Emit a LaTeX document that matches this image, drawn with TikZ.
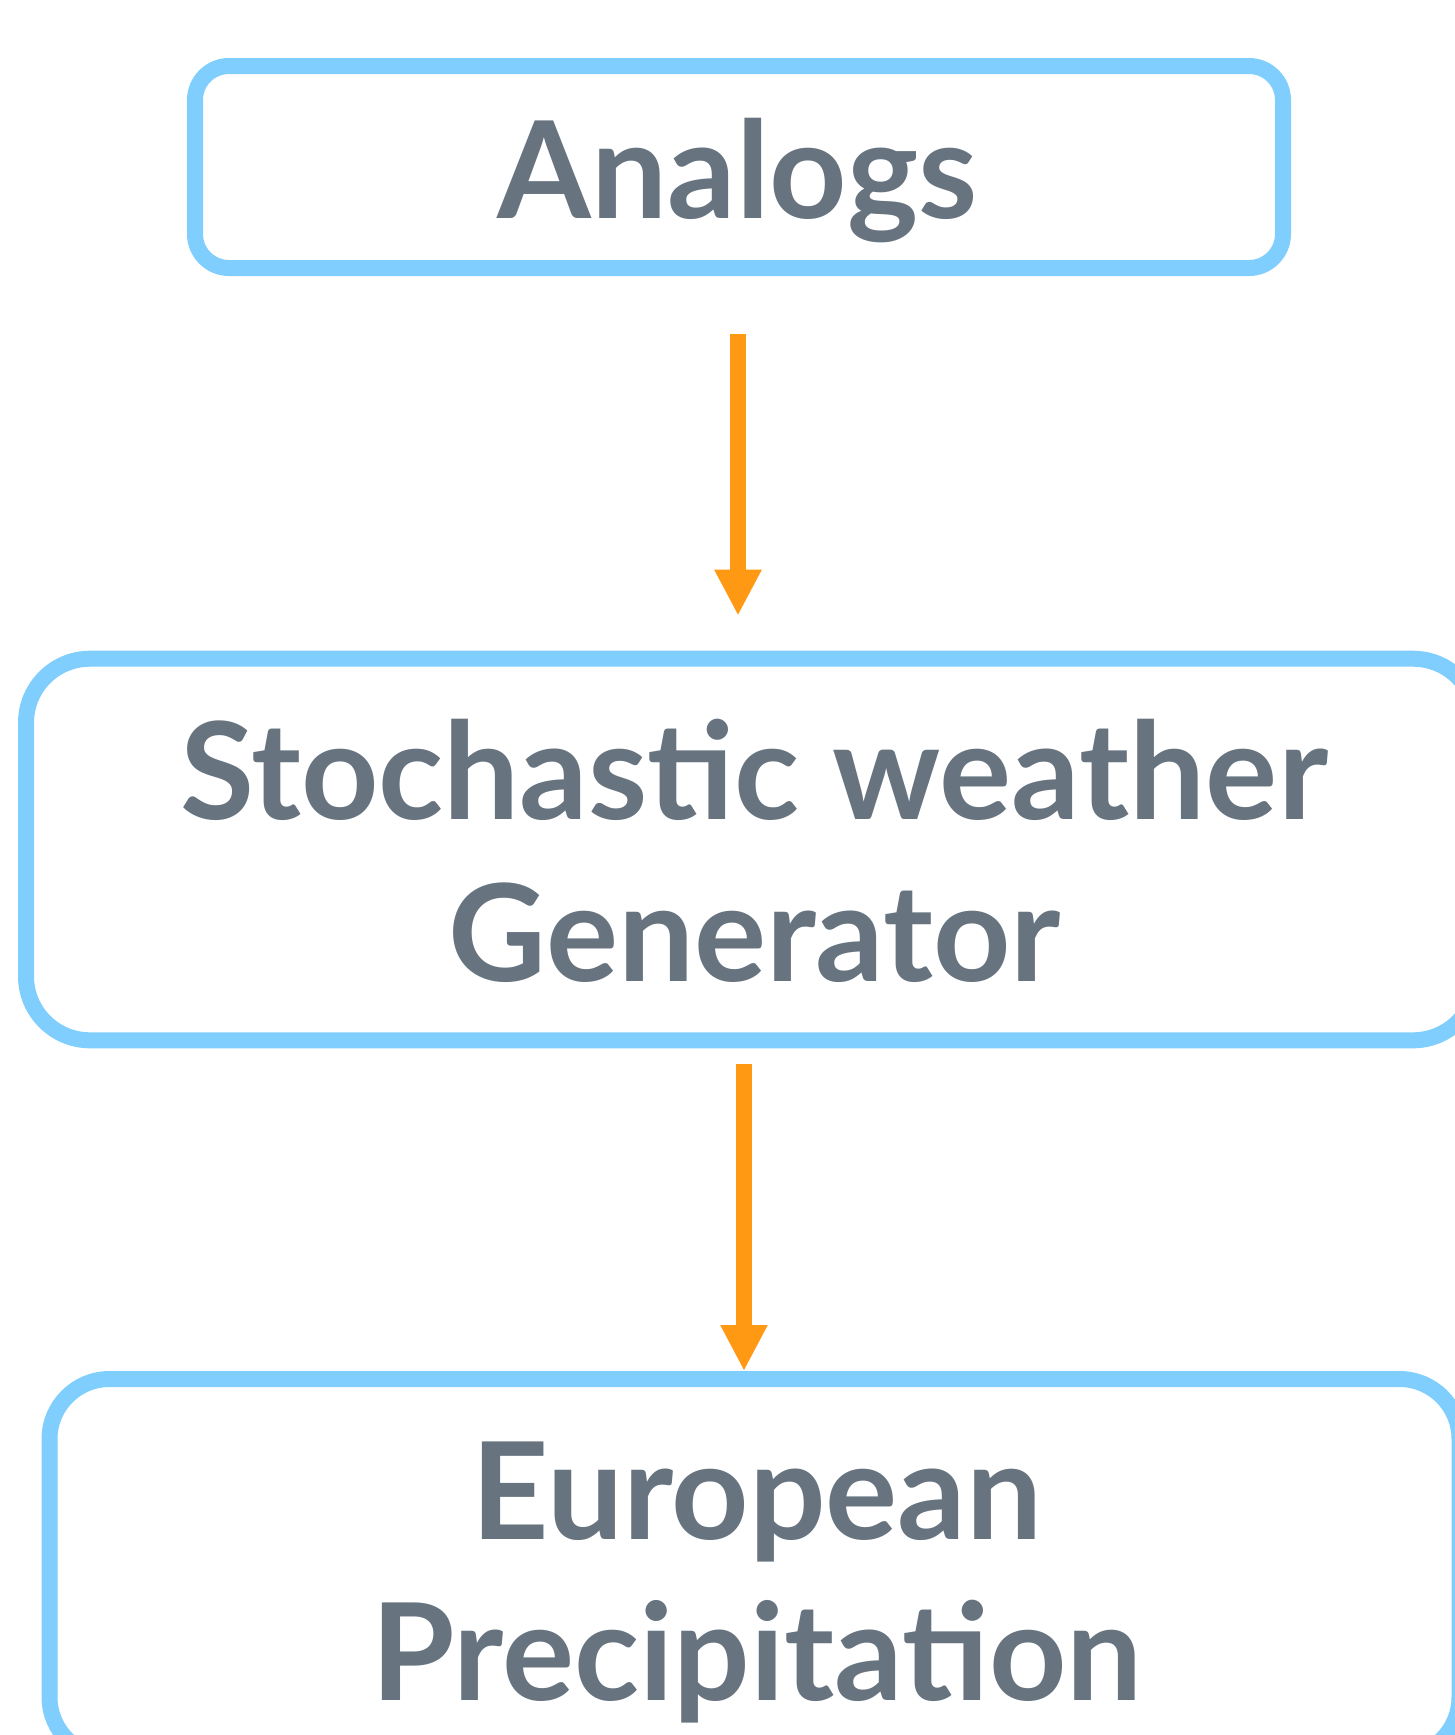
\documentclass[tikz,border=0pt]{standalone}
\usepackage{fontspec}
\setmainfont{Lato}
\usetikzlibrary{arrows.meta}
\definecolor{boxblue}{RGB}{128,206,253}
\definecolor{arrorange}{RGB}{255,153,20}
\definecolor{txtgray}{RGB}{103,116,128}
\tikzset{
  flowbox/.style={draw=boxblue, line width=16pt, inner sep=0pt, fill=none},
  flowtxt/.style={text=txtgray, font=\fontsize{135}{160}\selectfont\bfseries, inner sep=0pt, anchor=base},
  flowarr/.style={draw=arrorange, line width=16pt, -{Triangle[width=44pt,length=46pt]}}
}
\begin{document}
\begin{tikzpicture}[x=1pt,y=-1pt]
\useasboundingbox (0,0) rectangle (1455,1735);
\fill[white] (0,0) rectangle (1455,1735);
\node[flowbox, rounded corners=34pt, minimum width=1088pt, minimum height=202pt] (analogs) at (739,167) {};
\node[flowtxt] (analogsT) at (737.5,218) {Analogs};
\node[flowbox, rounded corners=64pt, minimum width=1451pt, minimum height=381.6pt] (swg) at (751.5,849.5) {};
\node[flowtxt] (swgT1) at (754,819) {Stochastic weather};
\node[flowtxt] (swgT2) at (755,981.5) {Generator};
\node[flowbox, rounded corners=60pt, minimum width=1410pt, minimum height=378pt] (europe) at (754.5,1568) {};
\node[flowtxt] (europeT1) at (757,1539) {European};
\node[flowtxt] (europeT2) at (757,1700.7) {Precipitation};
\coordinate (a1x) at (738,0);
\coordinate (a2x) at (744,0);
\draw[flowarr, shorten <=58pt, shorten >=35pt] (analogs.south -| a1x) -- (swg.north -| a1x);
\draw[flowarr, shorten <=16pt] (swg.south -| a2x) -- (europe.north -| a2x);
\end{tikzpicture}
\end{document}
